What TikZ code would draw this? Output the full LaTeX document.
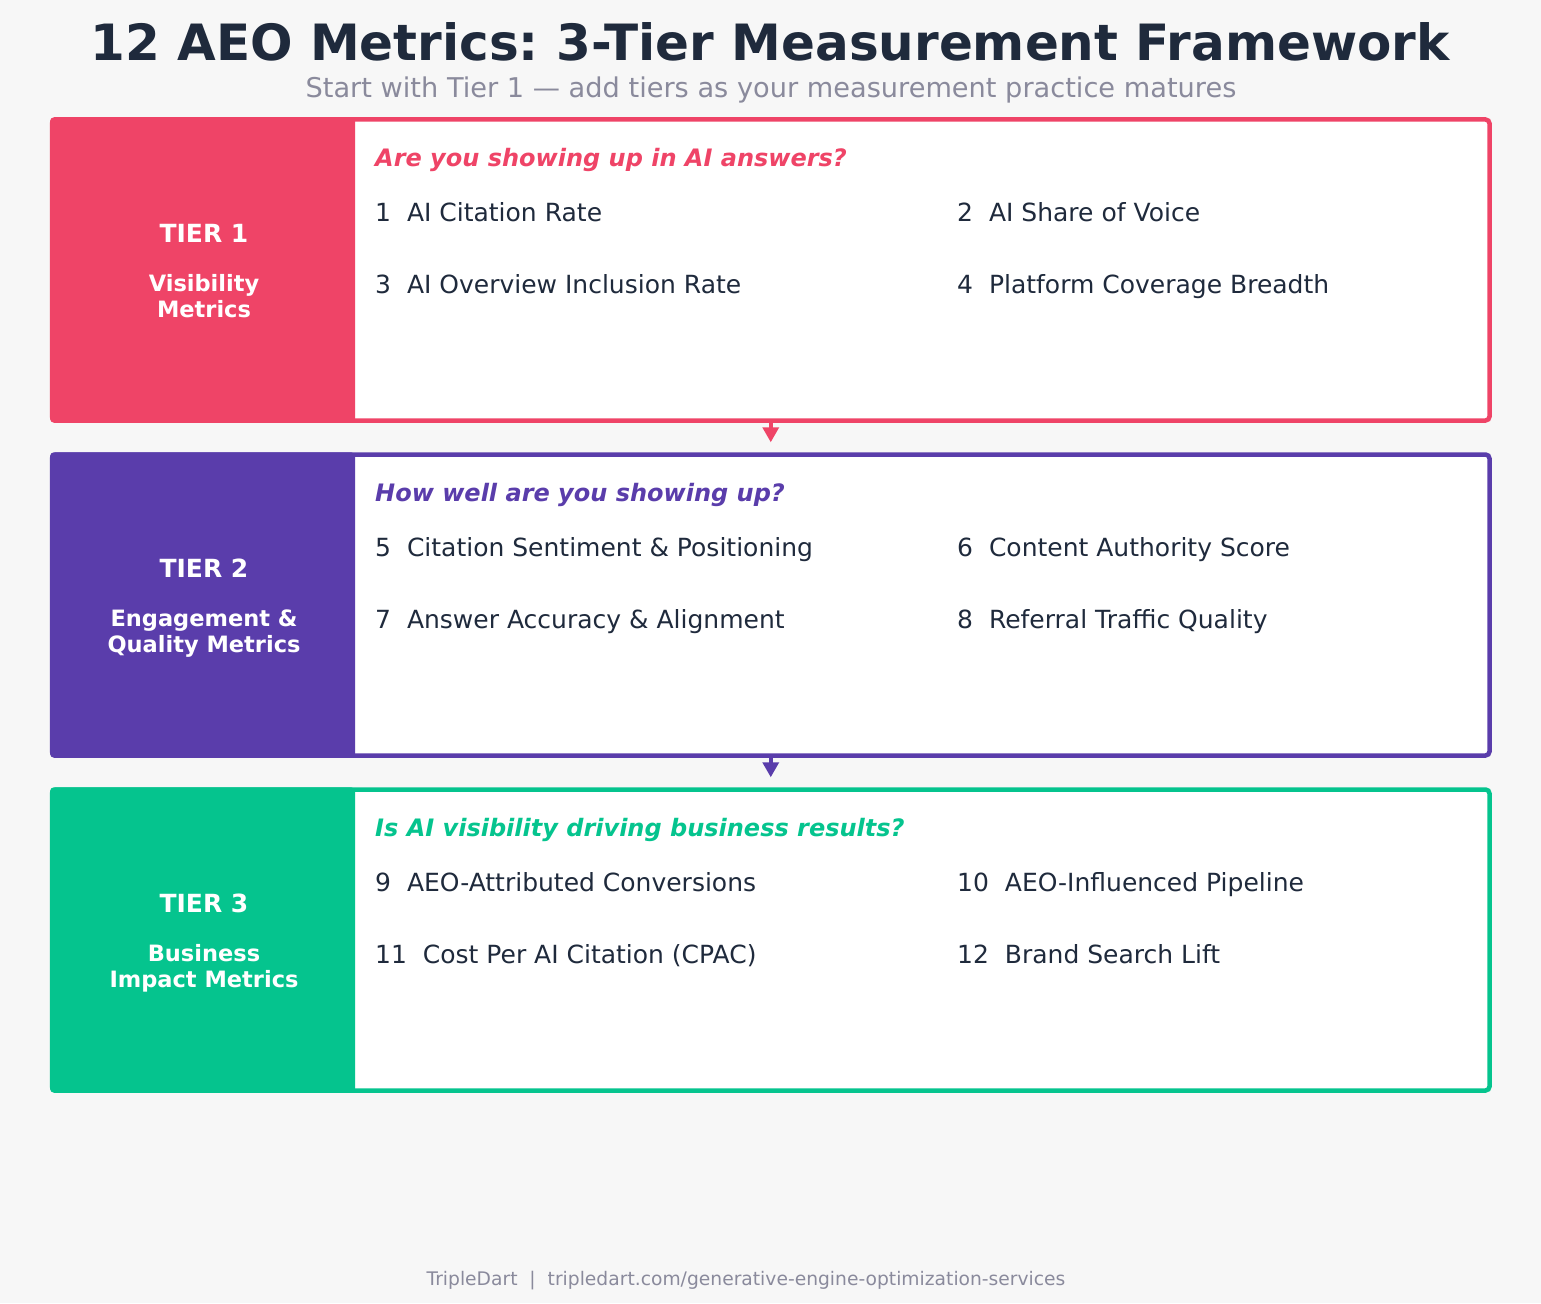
\documentclass[tikz,border=0pt]{standalone}
\usepackage{fontspec}
\setmainfont{DejaVu Sans}
\frenchspacing
\usetikzlibrary{arrows.meta,positioning}
\definecolor{pagebg}{HTML}{F7F7F7}
\definecolor{textdark}{HTML}{1F2A3C}
\definecolor{textgray}{HTML}{8A8A9C}
\definecolor{tierone}{HTML}{EF4467}
\definecolor{tiertwo}{HTML}{5A3DAB}
\definecolor{tierthree}{HTML}{05C48E}
\newcommand{\gap}{\hspace{0.636em}}

\begin{document}
\begin{tikzpicture}[x=1pt,y=-1pt,
    tierbox/.style={draw, line width=4.5pt, fill=white, rounded corners=4pt,
      minimum width=1437.5pt, minimum height=301pt, inner sep=0pt},
    panel/.style={rounded corners=4pt, minimum width=305pt, minimum height=305.5pt, inner sep=0pt},
    tiername/.style={text=white, font=\fontsize{25}{30}\selectfont\bfseries, anchor=base},
    tiersub/.style={text=white, font=\fontsize{22.5}{25.7}\selectfont\bfseries, align=center, anchor=base},
    question/.style={font=\fontsize{24}{28}\selectfont\bfseries\itshape, anchor=base west, inner sep=0pt},
    metric/.style={text=textdark, font=\fontsize{25}{28}\selectfont, anchor=base west, inner sep=0pt},
    flow/.style={-{Triangle[width=16pt,length=15pt]}, line width=3.5pt, shorten >=10pt}]
	\fill[pagebg] (0,0) rectangle (1541,1303);
	\useasboundingbox (0,0) rectangle (1541,1303);

	% heading
	\node[text=textdark, font=\fontsize{50}{56}\selectfont\bfseries, anchor=base] (title) at (770,61) {12 AEO Metrics: 3-Tier Measurement Framework};
	\node[text=textgray, font=\fontsize{27.2}{30}\selectfont, anchor=base] (subtitle) at (771,98) {Start with Tier 1 --- add tiers as your measurement practice matures};

	% tier 1
	\node[tierbox, draw=tierone] (box1) at (770.75,270) {};
	\node[panel, fill=tierone] (panel1) at (202.5,270) {};
	\node[tiername] (name1) at (204,242) {TIER 1};
	\node[tiersub] (sub1) at (204,317) {Visibility\\Metrics};
	\node[question, text=tierone] (q1) at (375,166) {Are you showing up in AI answers?};
	\node[metric] (m1) at (375,221) {1\gap AI Citation Rate};
	\node[metric] (m2) at (957,221) {2\gap AI Share of Voice};
	\node[metric] (m3) at (375,293) {3\gap AI Overview Inclusion Rate};
	\node[metric] (m4) at (957,293) {4\gap Platform Coverage Breadth};

	% tier 2
	\node[tierbox, draw=tiertwo] (box2) at (770.75,605) {};
	\node[panel, fill=tiertwo] (panel2) at (202.5,605) {};
	\node[tiername] (name2) at (204,577) {TIER 2};
	\node[tiersub] (sub2) at (204,652) {Engagement \&\\Quality Metrics};
	\node[question, text=tiertwo] (q2) at (375,501) {How well are you showing up?};
	\node[metric] (m5) at (375,556) {5\gap Citation Sentiment \& Positioning};
	\node[metric] (m6) at (957,556) {6\gap Content Authority Score};
	\node[metric] (m7) at (375,628) {7\gap Answer Accuracy \& Alignment};
	\node[metric] (m8) at (957,628) {8\gap Referral Traffic Quality};

	% tier 3
	\node[tierbox, draw=tierthree] (box3) at (770.75,940) {};
	\node[panel, fill=tierthree] (panel3) at (202.5,940) {};
	\node[tiername] (name3) at (204,912) {TIER 3};
	\node[tiersub] (sub3) at (204,987) {Business\\Impact Metrics};
	\node[question, text=tierthree] (q3) at (375,836) {Is AI visibility driving business results?};
	\node[metric] (m9) at (375,891) {9\gap AEO-Attributed Conversions};
	\node[metric] (m10) at (957,891) {10\gap AEO-Influenced Pipeline};
	\node[metric] (m11) at (375,963) {11\gap Cost Per AI Citation (CPAC)};
	\node[metric] (m12) at (957,963) {12\gap Brand Search Lift};

	% flow between tiers
	\draw[flow, draw=tierone] (box1.south) -- (box2.north);
	\draw[flow, draw=tiertwo] (box2.south) -- (box3.north);

	\node[text=textgray, font=\fontsize{18.7}{24}\selectfont, anchor=base] (footer) at (746,1285) {TripleDart\gap|\gap tripledart.com/generative-engine-optimization-services};
\end{tikzpicture}
\end{document}
